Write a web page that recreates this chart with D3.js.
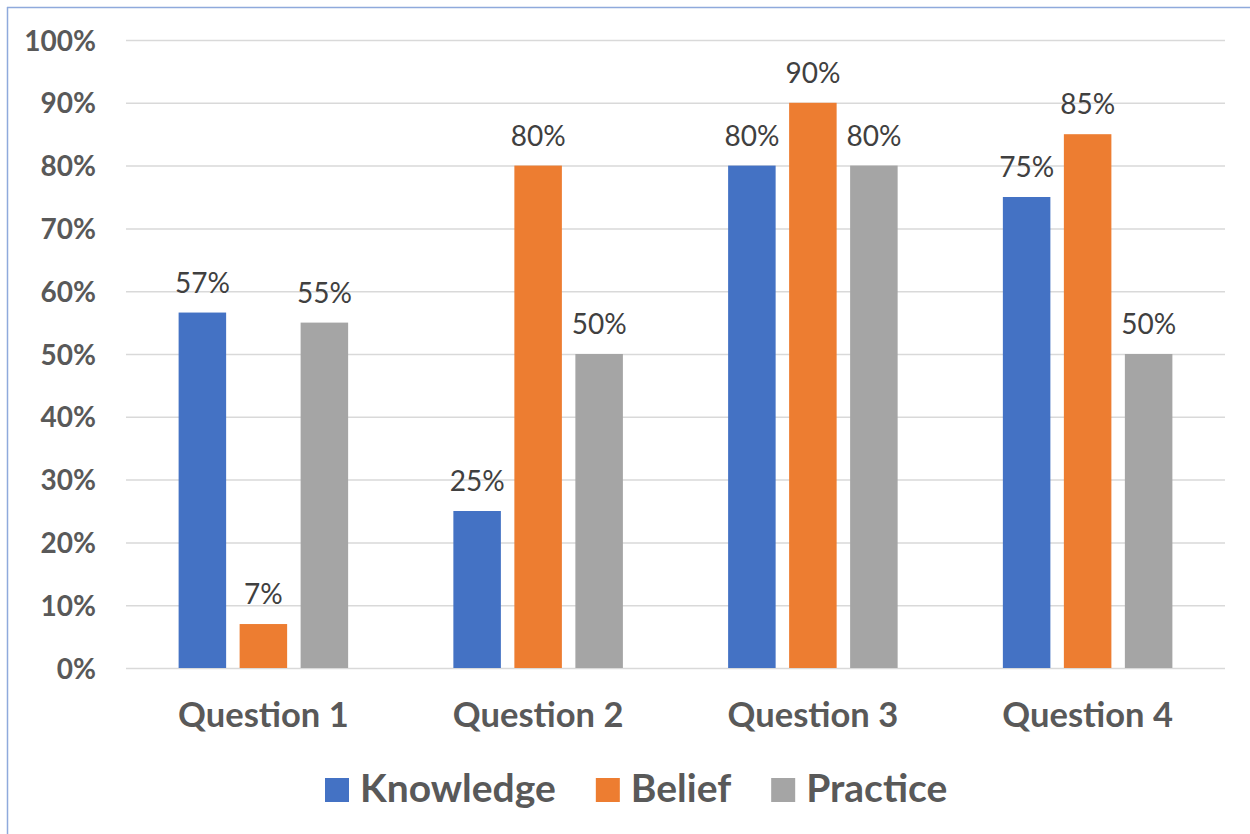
<!DOCTYPE html>
<html>
<head>
<meta charset="utf-8">
<script src="https://cdn.jsdelivr.net/npm/d3@7"></script>
<style>
  html, body { margin: 0; padding: 0; background: #fff; }
  svg { display: block; font-family: Lato, "Open Sans", sans-serif; }
</style>
</head>
<body>
<svg id="chart" width="1250" height="834"></svg>
<script>
const categories = ["Question 1", "Question 2", "Question 3", "Question 4"];
const seriesNames = ["Knowledge", "Belief", "Practice"];
const knowledge = [0.566, 0.25, 0.80, 0.75];
const belief = [0.07, 0.80, 0.90, 0.85];
const practice = [0.55, 0.50, 0.80, 0.50];
const yTicks = [0, 0.1, 0.2, 0.3, 0.4, 0.5, 0.6, 0.7, 0.8, 0.9, 1.0];
const colors = ["#4472C4", "#ED7D31", "#A5A5A5"];

const seriesValues = [knowledge, belief, practice];
const svg = d3.select("#chart");

// chart frame
svg.append("line").attr("x1", 7.5).attr("x2", 7.5).attr("y1", 7).attr("y2", 834)
  .attr("stroke", "#8FAADC").attr("stroke-width", 1.5);
svg.append("line").attr("x1", 7).attr("x2", 1250).attr("y1", 7.5).attr("y2", 7.5)
  .attr("stroke", "#8FAADC").attr("stroke-width", 1.5);

const x0 = d3.scaleBand().domain(categories).range([126, 1225])
  .paddingInner(0.383).paddingOuter(0.1915);
const x1 = d3.scaleBand().domain(seriesNames).range([0, x0.bandwidth()]).paddingInner(0.221);
const y = d3.scaleLinear().domain([0, 1]).range([668, 40]);
const pct = d3.format(".0%");

// gridlines
const yAxis = d3.axisLeft(y).tickValues(yTicks).tickSize(-(1225 - 126)).tickFormat(pct).tickPadding(30);
const gy = svg.append("g").attr("transform", "translate(126,0)").call(yAxis);
gy.select(".domain").remove();
gy.selectAll(".tick line").attr("stroke", "#D9D9D9").attr("stroke-width", 1.5);
gy.selectAll(".tick text").attr("fill", "#595959").attr("font-size", 28)
  .attr("font-weight", "bold").attr("font-family", "Lato, sans-serif").attr("dy", "0.36em");

// bars
const groups = svg.append("g").selectAll("g").data(categories).join("g")
  .attr("transform", d => `translate(${x0(d)},0)`);

groups.each(function(cat, ci) {
  const g = d3.select(this);
  const rows = seriesNames.map((s, si) => ({ s, si, v: seriesValues[si][ci] }));
  g.selectAll("rect").data(rows).join("rect")
    .attr("x", d => x1(d.s)).attr("width", x1.bandwidth())
    .attr("y", d => y(d.v)).attr("height", d => y(0) - y(d.v))
    .attr("fill", d => colors[d.si]);
  g.selectAll("text").data(rows).join("text")
    .attr("x", d => x1(d.s) + x1.bandwidth() / 2)
    .attr("y", d => y(d.v) - 20)
    .attr("text-anchor", "middle")
    .attr("font-size", 28).attr("fill", "#404040")
    .text(d => pct(d.v));
});

// x axis labels
const xAxis = d3.axisBottom(x0).tickSize(0).tickPadding(0);
const gx = svg.append("g").attr("transform", "translate(0,668)").call(xAxis);
gx.select(".domain").remove();
gx.selectAll(".tick text").attr("fill", "#595959").attr("font-size", 34.5)
  .attr("font-weight", "bold").attr("font-family", "Lato, sans-serif")
  .attr("dy", null).attr("y", 59);

// legend
const legend = svg.append("g");
let lx = 325;
seriesNames.forEach((s, i) => {
  legend.append("rect").attr("x", lx).attr("y", 778).attr("width", 24).attr("height", 24)
    .attr("fill", colors[i]);
  const t = legend.append("text").attr("x", lx + 35).attr("y", 801.5)
    .attr("font-size", 39).attr("font-weight", "bold").attr("fill", "#595959").text(s);
  lx = lx + 35 + t.node().getComputedTextLength() + 40;
});
</script>
</body>
</html>
